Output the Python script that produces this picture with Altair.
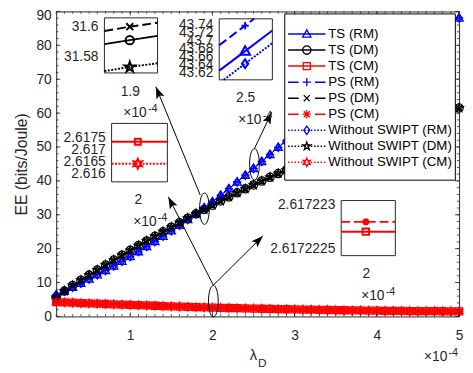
import math
import altair as alt
import pandas as pd

W = 409.5
H = 310.0
FONT = "Liberation Sans"
AXC = "#262626"

# ---------------- data ----------------
lam = [0.1, 0.2, 0.3, 0.4, 0.5, 0.6, 0.7, 0.8, 0.9, 1.0,
       1.1, 1.2, 1.3, 1.4, 1.5, 1.6, 1.7, 1.8, 1.9, 2.0,
       2.1, 2.2, 2.3, 2.4, 2.5, 2.6, 2.7, 2.8, 2.9, 3.0,
       3.1, 3.2, 3.3, 3.4, 3.5, 3.6, 3.7, 3.8, 3.9, 4.0,
       4.1, 4.2, 4.3, 4.4, 4.5, 4.6, 4.7, 4.8, 4.9, 5.0]

ee_rm = [6.40, 7.50, 8.64, 9.82, 11.03, 12.28, 13.57, 14.90, 16.27, 17.68,
         19.12, 20.60, 22.12, 23.68, 25.28, 26.92, 28.59, 30.30, 32.05, 33.85,
         35.75, 37.70, 39.67, 41.67, 43.67, 45.72, 47.80, 49.90, 51.90, 53.87,
         55.82, 57.75, 59.65, 61.52, 63.37, 65.19, 66.99, 68.77, 70.51, 72.24,
         73.93, 75.60, 77.25, 78.87, 80.47, 82.04, 83.58, 85.10, 86.60, 88.07]

ee_dm = [5.60, 7.50, 9.15, 10.70, 12.20, 13.70, 15.18, 16.64, 18.08, 19.50,
         20.90, 22.28, 23.64, 24.99, 26.33, 27.66, 28.98, 30.29, 31.59, 32.84,
         34.07, 35.28, 36.47, 37.65, 38.81, 39.94, 41.06, 42.16, 43.24, 44.30,
         45.34, 46.36, 47.36, 48.35, 49.31, 50.26, 51.18, 52.09, 52.98, 53.85,
         54.70, 55.53, 56.35, 57.14, 57.92, 58.67, 59.41, 60.13, 60.83, 61.51]

ee_cm = [4.250, 4.150, 4.052, 3.955, 3.860, 3.766, 3.674, 3.583, 3.494, 3.406,
         3.320, 3.236, 3.153, 3.071, 2.991, 2.913, 2.836, 2.761, 2.688, 2.617,
         2.554, 2.494, 2.435, 2.378, 2.323, 2.270, 2.218, 2.168, 2.120, 2.073,
         2.029, 1.986, 1.944, 1.905, 1.867, 1.831, 1.796, 1.763, 1.732, 1.703,
         1.675, 1.649, 1.625, 1.602, 1.582, 1.563, 1.545, 1.530, 1.516, 1.504]

series_names = ["TS (RM)", "TS (DM)", "TS (CM)",
                "PS (RM)", "PS (DM)", "PS (CM)",
                "Without SWIPT (RM)", "Without SWIPT (DM)", "Without SWIPT (CM)"]
series_mode = ["RM", "DM", "CM", "RM", "DM", "CM", "RM", "DM", "CM"]
series_style = ["solid", "solid", "solid", "dash", "dash", "dash", "dot", "dot", "dot"]
series_marker = ["tri", "circ", "sq", "plus", "x", "ast", "diam", "pent", "hex"]

mode_color = {"RM": "#0000FF", "DM": "#000000", "CM": "#FF0000"}
mode_values = {"RM": ee_rm, "DM": ee_dm, "CM": ee_cm}

x_major = [1, 2, 3, 4, 5]
y_major = [0, 10, 20, 30, 40, 50, 60, 70, 80, 90]
x_minor = [round(0.1 * i, 1) for i in range(1, 51)]
y_minor = list(range(0, 91, 2))

# annotation geometry (data coordinates of the main axes)
ellipse_x = [1.903, 2.511, 2.011]
ellipse_y = [31.8, 44.9, 4.5]
arrow_x0 = [1.851, 2.509, 2.011, 2.011]
arrow_y0 = [35.86, 49.42, 9.23, 9.23]
arrow_x1 = [1.312, 2.721, 1.464, 2.613]
arrow_y1 = [67.80, 60.25, 35.28, 23.75]


# ---------------- marker shapes ----------------
def star_path(n, r_in):
    pts = []
    for k in range(2 * n):
        r = 1.0 if k % 2 == 0 else r_in
        a = math.pi * k / n - math.pi / 2
        pts.append("%.3f,%.3f" % (r * math.cos(a), r * math.sin(a)))
    return "M" + "L".join(pts) + "Z"


SHAPES = {
    "tri": "M0,-1L1,0.75L-1,0.75Z",
    "circ": "M1,0A1,1,0,1,1,-1,0A1,1,0,1,1,1,0Z",
    "sq": "M-0.85,-0.85L0.85,-0.85L0.85,0.85L-0.85,0.85Z",
    "plus": "M-1,0L1,0M0,-1L0,1",
    "x": "M-0.72,-0.72L0.72,0.72M-0.72,0.72L0.72,-0.72",
    "ast": "M-1,0L1,0M0,-1L0,1M-0.72,-0.72L0.72,0.72M-0.72,0.72L0.72,-0.72",
    "diam": "M0,-1L0.72,0L0,1L-0.72,0Z",
    "pent": star_path(5, 0.382),
    "hex": star_path(6, 0.5),
}
ELLIPSE = "M0,-1A0.31,1,0,1,1,0,1A0.31,1,0,1,1,0,-1Z"
HEAD = "M0,0L0.36,1L0,0.8L-0.36,1Z"

DASH_MAIN = {"dash": [6, 4], "dot": [1.5, 2]}
DASH_LEG = {"dash": [10.7, 16.6], "dot": [1.5, 1.8]}
DASH_INS = {"dash": [9, 4], "dot": [2, 1.5]}

# ---------------- main axes ----------------
xs_main = alt.Scale(domain=[0.1, 5.0], nice=False, zero=False)
ys_main = alt.Scale(domain=[0, 90], nice=False, zero=False)
ax_x = alt.Axis(orient="bottom", values=x_major, format="d", labelFontSize=14,
                labelFont=FONT, labelColor=AXC, labelPadding=12, labelFlush=False,
                labelOverlap=False, ticks=False, tickSize=0, domain=False,
                grid=False, title=None)
ax_y = alt.Axis(orient="left", values=y_major, format="d", labelFontSize=14,
                labelFont=FONT, labelColor=AXC, labelPadding=5, labelFlush=False,
                labelOverlap=False, ticks=False, tickSize=0, domain=False,
                labelOffset={"condition": {"test": "datum.value == 90", "value": 4},
                             "value": 0},
                grid=False, title="EE (bits/Joule)", titleFont=FONT,
                titleFontSize=16, titleFontWeight="normal", titleColor=AXC,
                titleX=-35, titleY=H / 2, titleAngle=270, titleAlign="center",
                titleBaseline="middle")


def MX(f):
    return alt.X(f, scale=xs_main, axis=ax_x)


def MY(f):
    return alt.Y(f, scale=ys_main, axis=ax_y)


main_layers = []
for name, mode, style, mk in zip(series_names, series_mode, series_style, series_marker):
    df = pd.DataFrame({"x": lam, "y": mode_values[mode], "name": name})
    c = mode_color[mode]
    if style == "solid":
        ln = alt.Chart(df).mark_line(color=c, strokeWidth=1)
    else:
        ln = alt.Chart(df).mark_line(color=c, strokeWidth=1, strokeDash=DASH_MAIN[style])
    main_layers.append(ln.encode(x=MX("x:Q"), y=MY("y:Q")))
    main_layers.append(
        alt.Chart(df).mark_point(shape=SHAPES[mk], filled=False, color=c, size=70,
                                 strokeWidth=1.3, opacity=1)
        .encode(x=MX("x:Q"), y=MY("y:Q")))

# inner ticks (MATLAB style)
dxm = pd.DataFrame({"v": x_minor})
dxM = pd.DataFrame({"v": x_major})
dym = pd.DataFrame({"v": y_minor})
dyM = pd.DataFrame({"v": y_major})
for d, ln in ((dxm, 2.3), (dxM, 4.2)):
    main_layers.append(alt.Chart(d).mark_rule(color=AXC, strokeWidth=0.8).encode(
        x=MX("v:Q"), y=alt.value(H), y2=alt.value(H - ln)))
    main_layers.append(alt.Chart(d).mark_rule(color=AXC, strokeWidth=0.8).encode(
        x=MX("v:Q"), y=alt.value(0), y2=alt.value(ln)))
for d, ln in ((dym, 2.3), (dyM, 4.2)):
    main_layers.append(alt.Chart(d).mark_rule(color=AXC, strokeWidth=0.8).encode(
        y=MY("v:Q"), x=alt.value(0), x2=alt.value(ln)))
    main_layers.append(alt.Chart(d).mark_rule(color=AXC, strokeWidth=0.8).encode(
        y=MY("v:Q"), x=alt.value(W), x2=alt.value(W - ln)))

# ellipses
dell = pd.DataFrame({"x": ellipse_x, "y": ellipse_y})
main_layers.append(alt.Chart(dell).mark_point(shape=ELLIPSE, filled=False, color="black",
                                              size=1024, strokeWidth=1, opacity=1)
                   .encode(x=MX("x:Q"), y=MY("y:Q")))

# arrows
PX_X = W / (5.0 - 0.1)
PX_Y = H / 90.0
for x0, y0, x1, y1 in zip(arrow_x0, arrow_y0, arrow_x1, arrow_y1):
    da = pd.DataFrame({"x0": [x0], "y0": [y0], "x1": [x1], "y1": [y1]})
    main_layers.append(alt.Chart(da).mark_rule(color="black", strokeWidth=1).encode(
        x=MX("x0:Q"), y=MY("y0:Q"), x2="x1:Q", y2="y1:Q"))
    dxp = (x1 - x0) * PX_X
    dyp = -(y1 - y0) * PX_Y
    ang = math.degrees(math.atan2(dxp, -dyp)) % 360
    main_layers.append(alt.Chart(da).mark_point(shape=HEAD, filled=True, color="black",
                                                size=576, angle=ang, opacity=1,
                                                strokeWidth=0)
                       .encode(x=MX("x1:Q"), y=MY("y1:Q")))

# exponent label of main x axis
dexp = pd.DataFrame({"x": [5.0], "y": [0.0]})
main_layers.append(alt.Chart(dexp).mark_text(text="×10", font=FONT, fontSize=14, color=AXC,
                                             align="right", baseline="middle", dx=-12, dy=41.5)
                   .encode(x=MX("x:Q"), y=MY("y:Q")))
main_layers.append(alt.Chart(dexp).mark_text(text="-4", font=FONT, fontSize=11, color=AXC,
                                             align="right", baseline="middle", dx=-1, dy=37)
                   .encode(x=MX("x:Q"), y=MY("y:Q")))
# x axis title lambda_D
one = pd.DataFrame({"a": [0]})
main_layers.append(alt.Chart(one).mark_text(text="λ", font=FONT, fontSize=15, color=AXC,
                                            align="center", baseline="alphabetic")
                   .encode(x=alt.value(200.5), y=alt.value(354.5)))
main_layers.append(alt.Chart(one).mark_text(text="D", font=FONT, fontSize=12, color=AXC,
                                            align="left", baseline="alphabetic")
                   .encode(x=alt.value(205.0), y=alt.value(361.5)))

main = alt.layer(*main_layers)

# ---------------- legend ----------------
ys_leg = alt.Scale(domain=series_names, range=[14.8, 161.5], padding=0)
leg_layers = [alt.Chart(one).mark_rect(fill="white", stroke="black", strokeWidth=1).encode(
    x=alt.value(232.3), x2=alt.value(405.7), y=alt.value(2.5), y2=alt.value(171.5))]
for name, mode, style, mk in zip(series_names, series_mode, series_style, series_marker):
    dl = pd.DataFrame({"name": [name]})
    c = mode_color[mode]
    Yl = alt.Y("name:N", scale=ys_leg, axis=None)
    if style == "solid":
        r = alt.Chart(dl).mark_rule(color=c, strokeWidth=1.5)
    else:
        r = alt.Chart(dl).mark_rule(color=c, strokeWidth=1.5, strokeDash=DASH_LEG[style])
    leg_layers.append(r.encode(x=alt.value(235.7), x2=alt.value(273.7), y=Yl))
    leg_layers.append(alt.Chart(dl).mark_point(shape=SHAPES[mk], filled=False, color=c,
                                               size=72, strokeWidth=1.3, opacity=1)
                      .encode(x=alt.value(254.7), y=Yl))
    leg_layers.append(alt.Chart(dl).mark_text(font=FONT, fontSize=13.5, color="black",
                                              align="left", baseline="middle")
                      .encode(x=alt.value(276.5), y=Yl, text="name:N"))
legend = alt.layer(*leg_layers)

# ---------------- insets ----------------
insets = [
    dict(xrange=[49.0, 103.0], yrange=[62.5, 6.5],
         xdom=[1.899771, 1.900251], ydom=[31.5687, 31.606],
         xticks=[1.9], xfmt=".1f", yticks=[31.58, 31.6], yfmt=".4~g",
         lines=[
             ("TS (DM)", "solid", "circ", 72, [1.899771, 1.9, 1.900251], [31.5882, 31.5909, 31.5938]),
             ("PS (DM)", "dash", "x", 95, [1.899771, 1.9, 1.900251], [31.5971, 31.6, 31.6027]),
             ("Without SWIPT (DM)", "dot", "pent", 121, [1.899771, 1.9, 1.900251], [31.5700, 31.5727, 31.5753]),
         ]),
    dict(xrange=[165.7, 219.7], yrange=[69.5, 7.5],
         xdom=[2.497565, 2.502565], ydom=[43.602, 43.754],
         xticks=[2.5], xfmt=".1f",
         yticks=[43.62, 43.64, 43.66, 43.68, 43.70, 43.72, 43.74], yfmt=".4~g",
         lines=[
             ("TS (RM)", "solid", "tri", 100, [2.497565, 2.5, 2.502565], [43.6249, 43.6736, 43.7249]),
             ("PS (RM)", "dash", "plus", 56, [2.497565, 2.5, 2.50085], [43.6883, 43.737, 43.754]),
             ("Without SWIPT (RM)", "dot", "diam", 81, [2.497985, 2.5, 2.502565], [43.602, 43.6423, 43.6936]),
         ]),
    dict(xrange=[56.3, 113.0], yrange=[173.2, 113.8],
         xdom=[1.99953, 2.00053], ydom=[2.61566, 2.61808],
         xticks=[2], xfmt=".0f", yticks=[2.616, 2.6165, 2.617, 2.6175], yfmt=".5~g",
         lines=[
             ("TS (CM)", "solid", "sq", 50, [1.99953, 2.0, 2.00053], [2.61732, 2.61732, 2.61732]),
             ("Without SWIPT (CM)", "dot", "hex", 100, [1.99953, 2.0, 2.00053], [2.61641, 2.61641, 2.61641]),
         ]),
    dict(xrange=[289.7, 344.7], yrange=[248.2, 192.2],
         xdom=[1.999545, 2.000545], ydom=[2.61722242, 2.61722304],
         xticks=[2], xfmt=".0f", yticks=[2.6172225, 2.617223], yfmt=".8~g",
         lines=[
             ("TS (CM)", "solid", "sq", 60, [1.999545, 2.0, 2.000545], [2.61722269, 2.61722269, 2.61722269]),
             ("PS (CM)", "dash", "ast", 49, [1.999545, 2.0, 2.000545], [2.6172228, 2.6172228, 2.6172228]),
         ]),
]

inset_charts = []
for sp in insets:
    xs = alt.Scale(domain=sp["xdom"], range=sp["xrange"], nice=False, zero=False)
    ys = alt.Scale(domain=sp["ydom"], range=sp["yrange"], nice=False, zero=False)
    axx = alt.Axis(orient="bottom", offset=-(H - sp["yrange"][0]), values=sp["xticks"],
                   format=sp["xfmt"], labelFontSize=14, labelFont=FONT, labelColor=AXC,
                   labelPadding=11.5, labelFlush=False, labelOverlap=False, ticks=False,
                   tickSize=0, domain=False, grid=False, title=None)
    axy = alt.Axis(orient="left", offset=-sp["xrange"][0], values=sp["yticks"],
                   format=sp["yfmt"], labelFontSize=14, labelFont=FONT, labelColor=AXC,
                   labelPadding=6.5, labelFlush=False, labelOverlap=False, ticks=False,
                   tickSize=0, domain=False, grid=False, title=None)

    def IX(f, xs=xs, axx=axx):
        return alt.X(f, scale=xs, axis=axx)

    def IY(f, ys=ys, axy=axy):
        return alt.Y(f, scale=ys, axis=axy)

    lay = []
    box = pd.DataFrame({"x0": [sp["xdom"][0]], "x1": [sp["xdom"][1]],
                        "y0": [sp["ydom"][0]], "y1": [sp["ydom"][1]]})
    lay.append(alt.Chart(box).mark_rect(fill="white", stroke=AXC, strokeWidth=1).encode(
        x=IX("x0:Q"), x2="x1:Q", y=IY("y0:Q"), y2="y1:Q"))
    for name, style, mk, sz, xv, yv in sp["lines"]:
        c = mode_color[series_mode[series_names.index(name)]]
        dfl = pd.DataFrame({"x": xv, "y": yv})
        if style == "solid":
            m = alt.Chart(dfl).mark_line(color=c, strokeWidth=2)
        else:
            m = alt.Chart(dfl).mark_line(color=c, strokeWidth=2, strokeDash=DASH_INS[style])
        lay.append(m.encode(x=IX("x:Q"), y=IY("y:Q")))
        dfc = pd.DataFrame({"x": [xv[1]], "y": [yv[1]]})
        sw = 2.5 if mk == "ast" else 2
        lay.append(alt.Chart(dfc).mark_point(shape=SHAPES[mk], filled=False, color=c,
                                             size=sz, strokeWidth=sw, opacity=1)
                   .encode(x=IX("x:Q"), y=IY("y:Q")))
    de = pd.DataFrame({"x": [sp["xdom"][1]], "y": [sp["ydom"][0]]})
    lay.append(alt.Chart(de).mark_text(text="×10", font=FONT, fontSize=14, color=AXC,
                                       align="right", baseline="middle", dx=-11, dy=41)
               .encode(x=IX("x:Q"), y=IY("y:Q")))
    lay.append(alt.Chart(de).mark_text(text="-4", font=FONT, fontSize=11, color=AXC,
                                       align="right", baseline="middle", dx=0, dy=36.5)
               .encode(x=IX("x:Q"), y=IY("y:Q")))
    inset_charts.append(alt.layer(*lay))

chart = (
    alt.layer(main, legend, *inset_charts)
    .resolve_scale(x="independent", y="independent")
    .properties(width=W, height=H,
                padding={"left": 49, "top": 0.5, "right": 6, "bottom": 56},
                autosize=alt.AutoSizeParams(type="none"),
                background="white")
    .configure_view(stroke=AXC, strokeWidth=1)
)

chart.save("out.html", embed_options={"renderer": "svg", "actions": False})
